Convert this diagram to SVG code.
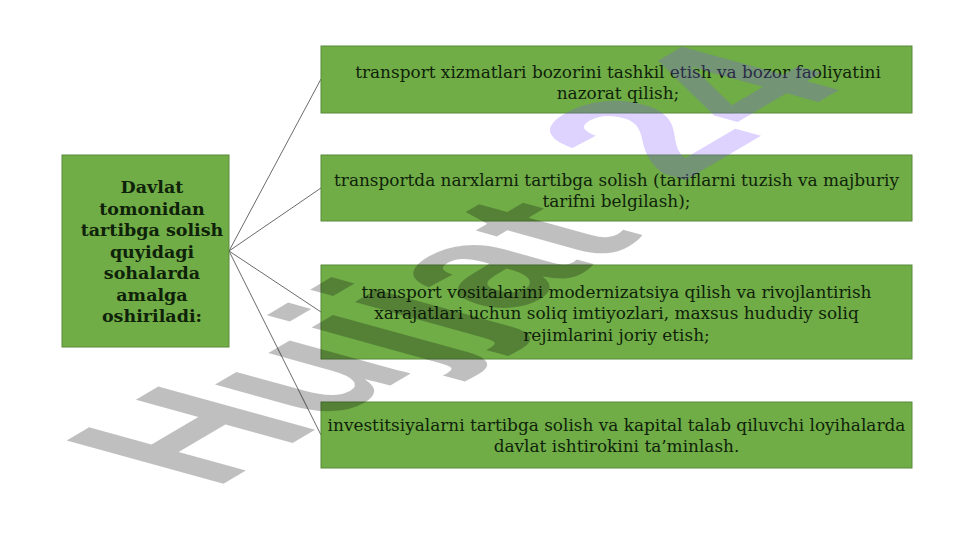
<svg xmlns="http://www.w3.org/2000/svg" width="960" height="540" viewBox="0 0 960 540">
<style>
.box{fill:#70ad47;stroke:#5a8a3a;stroke-width:1}
.t{font-family:"DejaVu Serif","Liberation Serif",serif;font-size:16.9px;fill:#0f2209;text-anchor:middle}
.tb{font-family:"DejaVu Serif","Liberation Serif",serif;font-size:17.5px;font-weight:bold;fill:#0f2209;text-anchor:middle}
.c{stroke:#3a3a3a;stroke-width:0.75;fill:none}
.wm{font-family:"Liberation Sans",Arial,sans-serif;font-weight:bold;font-size:100px}
</style>
<rect width="960" height="540" fill="#ffffff"/>
<g id="connectors">
<line class="c" x1="229" y1="251" x2="321" y2="79"/>
<line class="c" x1="229" y1="251" x2="321" y2="188"/>
<line class="c" x1="229" y1="251" x2="321" y2="312"/>
<line class="c" x1="229" y1="251" x2="321" y2="435"/>
</g>
<g id="node-main">
<rect class="box" x="62" y="155" width="167" height="192"/>
<text class="tb" x="152" y="193">Davlat</text>
<text class="tb" x="152" y="214.5">tomonidan</text>
<text class="tb" x="152" y="236">tartibga solish</text>
<text class="tb" x="152" y="257.5">quyidagi</text>
<text class="tb" x="152" y="279">sohalarda</text>
<text class="tb" x="152" y="300.5">amalga</text>
<text class="tb" x="152" y="322">oshiriladi:</text>
</g>
<g id="node-1">
<rect class="box" x="321" y="46" width="591" height="67"/>
<text class="t" x="618" y="77.5">transport xizmatlari bozorini tashkil etish va bozor faoliyatini</text>
<text class="t" x="618" y="99">nazorat qilish;</text>
</g>
<g id="node-2">
<rect class="box" x="321" y="155" width="591" height="66"/>
<text class="t" x="616.5" y="185.5">transportda narxlarni tartibga solish (tariflarni tuzish va majburiy</text>
<text class="t" x="616.5" y="207">tarifni belgilash);</text>
</g>
<g id="node-3">
<rect class="box" x="321" y="265" width="591" height="94"/>
<text class="t" x="616.5" y="297.5">transport vositalarini modernizatsiya qilish va rivojlantirish</text>
<text class="t" x="616.5" y="319">xarajatlari uchun soliq imtiyozlari, maxsus hududiy soliq</text>
<text class="t" x="616.5" y="340.5">rejimlarini joriy etish;</text>
</g>
<g id="node-4">
<rect class="box" x="321" y="402" width="591" height="66"/>
<text class="t" x="616.5" y="430.5">investitsiyalarni tartibga solish va kapital talab qiluvchi loyihalarda</text>
<text class="t" x="616.5" y="452">davlat ishtirokini ta’minlash.</text>
</g>
<g id="watermark" transform="matrix(1.56 -0.92 2.28 0.63 213 490)">
<text class="wm" x="0" y="0" fill="#000000" fill-opacity="0.25">Hujjat</text>
<text class="wm" x="322.6" y="-15.7" fill="#7b4dff" fill-opacity="0.25">24</text>
</g>
</svg>
